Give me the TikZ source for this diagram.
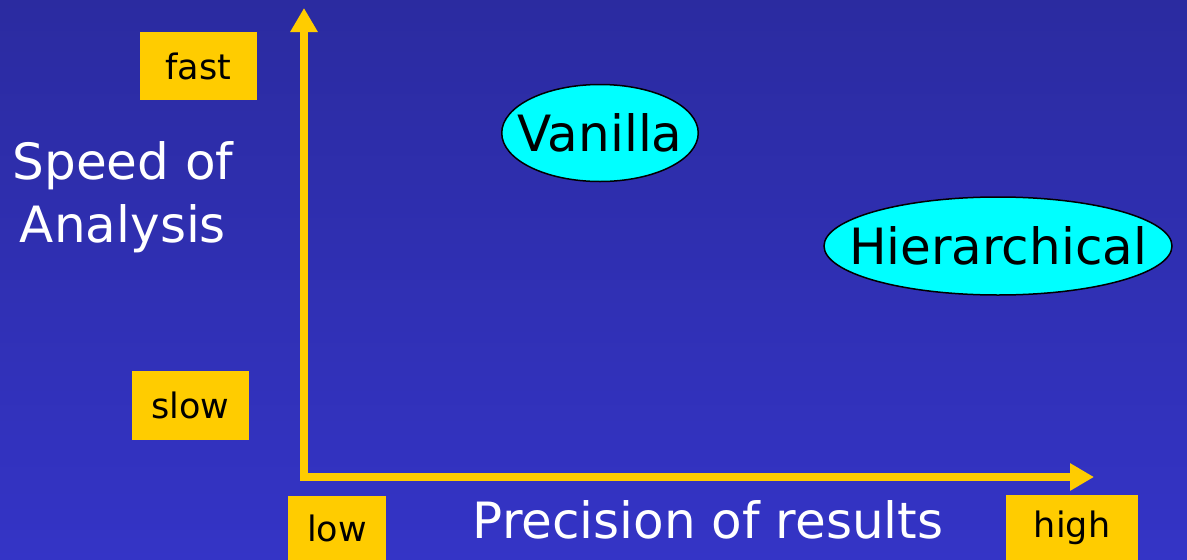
\documentclass[tikz,border=0pt]{standalone}
\usepackage{fontspec}
\setmainfont{DejaVu Sans}
\usetikzlibrary{arrows.meta,shapes.geometric}
\definecolor{bgtop}{HTML}{2B2BA0}
\definecolor{bgbot}{HTML}{3434C6}
\definecolor{axisyel}{HTML}{FFCC00}
\definecolor{ovalcyan}{HTML}{00FFFF}
\tikzset{
  labelbox/.style={fill=axisyel, text=black, inner sep=0pt, font=\fontsize{35}{40}\selectfont},
  oval/.style={ellipse, draw=black, line width=1.5pt, fill=ovalcyan, inner ysep=0pt, font=\fontsize{50}{56}\selectfont},
  axislabel/.style={text=white, align=center, font=\fontsize{50}{63}\selectfont},
  axisline/.style={draw=axisyel, line width=8.5pt, line join=miter, {Triangle[width=26pt,length=24pt]}-{Triangle[width=26pt,length=24pt]}}
}
\begin{document}
\begin{tikzpicture}[x=1pt,y=-1pt]
\useasboundingbox (0,0) rectangle (1187,560);
\shade[top color=bgtop, bottom color=bgbot] (0,0) rectangle (1187,560);
\coordinate (ytip) at (304,8);
\coordinate (origin) at (304,477);
\coordinate (xtip) at (1094,477);
\draw[axisline] (ytip) -- (origin) -- (xtip);
\node[labelbox, minimum width=117pt, minimum height=68pt] (fast) at (198.5,66) {fast};
\node[labelbox, minimum width=117pt, minimum height=69pt] (slow) at (190.5,405.5) {slow};
\node[labelbox, minimum width=98pt, minimum height=64pt] (low) at (337,528) {low};
\node[labelbox, minimum width=132pt, minimum height=65pt] (high) at (1072,527.5) {high};
\node[oval, inner xsep=-13pt, minimum width=192pt, minimum height=97pt] (vanilla) at (600,133) {Vanilla};
\node[oval, inner xsep=-28pt, minimum width=348pt, minimum height=98pt] (hier) at (998,246) {Hierarchical};
\node[axislabel] (speed) at (123,197) {Speed of\\Analysis};
\node[axislabel] (prec) at (708,520) {Precision of results};
\end{tikzpicture}
\end{document}
